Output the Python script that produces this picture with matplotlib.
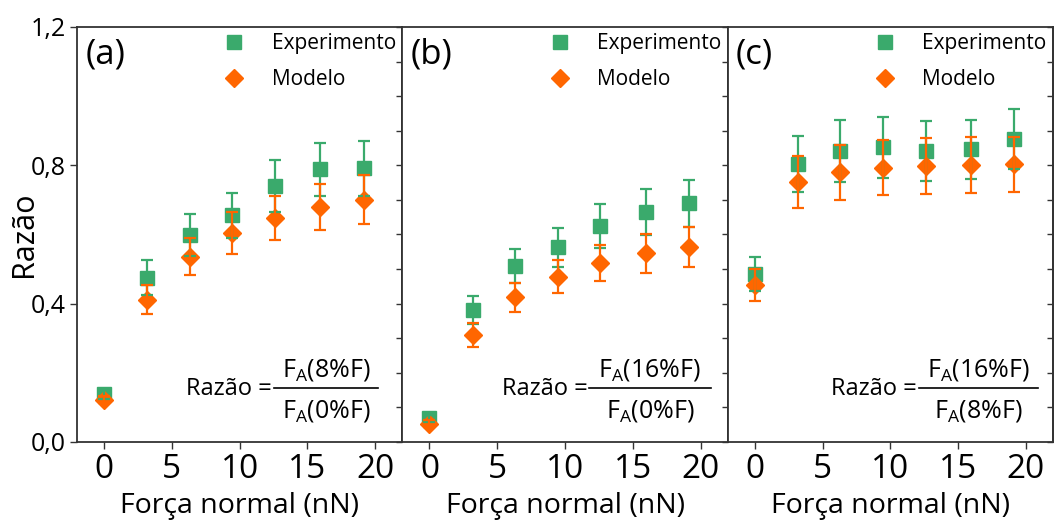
import numpy as np
import matplotlib.pyplot as plt
from matplotlib.lines import Line2D
from matplotlib.ticker import MultipleLocator, FixedLocator

plt.rcParams['font.family'] = ['Open Sans', 'DejaVu Sans']
plt.rcParams['mathtext.fontset'] = 'custom'
plt.rcParams['mathtext.rm'] = 'Open Sans'

# força normal (nN)
forca = [0, 3.2, 6.3, 9.45, 12.6, 15.95, 19.15]

# (a)
exp_a = [0.139, 0.475, 0.599, 0.656, 0.740, 0.788, 0.791]
exp_a_err = [0.015, 0.050, 0.060, 0.065, 0.075, 0.078, 0.079]
mod_a = [0.122, 0.411, 0.536, 0.605, 0.647, 0.680, 0.700]
mod_a_err = [0.010, 0.042, 0.054, 0.061, 0.064, 0.067, 0.071]

# (b)
exp_b = [0.069, 0.382, 0.509, 0.563, 0.625, 0.666, 0.690]
exp_b_err = [0.010, 0.040, 0.050, 0.056, 0.064, 0.067, 0.069]
mod_b = [0.053, 0.310, 0.419, 0.478, 0.517, 0.546, 0.565]
mod_b_err = [0.010, 0.034, 0.042, 0.048, 0.052, 0.056, 0.058]

# (c)
exp_c = [0.486, 0.803, 0.842, 0.852, 0.842, 0.846, 0.875]
exp_c_err = [0.050, 0.081, 0.089, 0.088, 0.087, 0.086, 0.087]
mod_c = [0.454, 0.752, 0.780, 0.793, 0.798, 0.801, 0.803]
mod_c_err = [0.046, 0.076, 0.080, 0.080, 0.080, 0.080, 0.080]

letras = ['(a)', '(b)', '(c)']
numeradores = ['8%F', '16%F', '16%F']
denominadores = ['0%F', '0%F', '8%F']

verde = '#3aaa6c'
laranja = '#ff6600'
cor_eixo = '#333333'

fig = plt.figure(figsize=(10.54, 5.22), dpi=100)
left, right, bottom, top = 77 / 1054, 1053 / 1054, 80 / 522, 495 / 522
w = (right - left) / 3
axes = [fig.add_axes([left + i * w, bottom, w, top - bottom]) for i in range(3)]

dados = [(exp_a, exp_a_err, mod_a, mod_a_err),
         (exp_b, exp_b_err, mod_b, mod_b_err),
         (exp_c, exp_c_err, mod_c, mod_c_err)]
# posição da fração: fim do "=", início e fim da barra
frac_pos = [(0.598, 0.606, 0.924), (0.569, 0.574, 0.948), (0.582, 0.588, 0.954)]

for i, ax in enumerate(axes):
    e, ee, m, me = dados[i]
    ax.plot(forca, e, 's', color=verde, ms=10, mec=verde, zorder=2)
    ax.plot(forca, m, 'D', color=laranja, ms=9.5, mec=laranja, zorder=3)
    ax.errorbar(forca, e, yerr=ee, fmt='none', ecolor=verde, elinewidth=1.6,
                capsize=4.5, capthick=1.6, zorder=4)
    ax.errorbar(forca, m, yerr=me, fmt='none', ecolor=laranja, elinewidth=1.6,
                capsize=4.5, capthick=1.6, zorder=5)

    ax.set_xlim(-2, 22)
    ax.set_ylim(0, 1.2)
    ax.set_xticks([0, 5, 10, 15, 20])
    ax.tick_params(axis='x', direction='out', length=5, width=1, labelsize=24,
                   color=cor_eixo, pad=3)
    ax.set_xlabel('Força normal (nN)', fontsize=20.5, labelpad=4)
    for s in ax.spines.values():
        s.set_color(cor_eixo)
        s.set_linewidth(1.3)

    if i == 0:
        ax.yaxis.set_major_locator(FixedLocator([0, 0.4, 0.8, 1.2]))
        ax.set_yticklabels(['0,0', '0,4', '0,8', '1,2'])
        ax.tick_params(axis='y', direction='out', length=5, width=1, labelsize=18,
                       color=cor_eixo, pad=3)
        ax.set_ylabel('Razão', fontsize=22)
        ax.yaxis.set_label_coords(-0.118, 0.5)
    else:
        ax.tick_params(axis='y', left=False, labelleft=False)

    sec = ax.secondary_yaxis('right')
    sec.yaxis.set_major_locator(MultipleLocator(0.1))
    sec.tick_params(direction='in', length=4, width=1, labelright=False, color=cor_eixo)
    sec.spines['right'].set_color(cor_eixo)
    sec.spines['right'].set_linewidth(1.3)

    ax.text(0.025, 0.975, letras[i], transform=ax.transAxes, fontsize=25,
            ha='left', va='top')

    hs = [Line2D([], [], ls='none', marker='s', ms=10, color=verde),
          Line2D([], [], ls='none', marker='D', ms=9.5, color=laranja)]
    ax.legend(hs, ['Experimento', 'Modelo'], loc='upper right', frameon=False,
              fontsize=15, handlelength=1.0, handletextpad=1.3, labelspacing=0.7,
              borderaxespad=0.0, borderpad=0.3)

    xe, x0, x1 = frac_pos[i]
    yl = 0.130
    ax.text(xe, 0.113, 'Razão =', transform=ax.transAxes, fontsize=17,
            ha='right', va='baseline')
    ax.plot([x0, x1], [yl, yl], transform=ax.transAxes, color='black', lw=1.2,
            clip_on=False)
    xc = (x0 + x1) / 2
    ax.text(xc, 0.157, r'F$_\mathrm{A}$(' + numeradores[i] + ')',
            transform=ax.transAxes, fontsize=18, ha='center', va='baseline')
    ax.text(xc, 0.058, r'F$_\mathrm{A}$(' + denominadores[i] + ')',
            transform=ax.transAxes, fontsize=18, ha='center', va='baseline')

plt.savefig('out.png', dpi=100)
